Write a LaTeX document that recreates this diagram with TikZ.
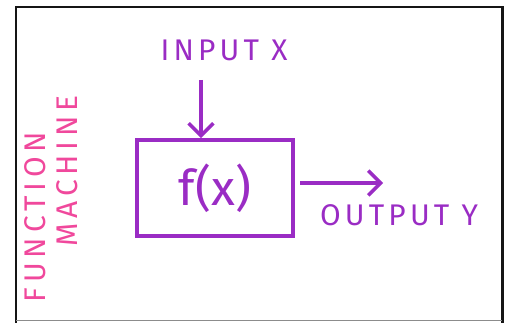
\documentclass[tikz,border=0pt]{standalone}
\usepackage{fontspec}
\setmainfont{Fira Sans}
\usetikzlibrary{positioning, arrows.meta}
\definecolor{Ink}{HTML}{9A2CC4}
\definecolor{Marker}{HTML}{F0489C}
\definecolor{Frame}{HTML}{151515}
\tikzset{
    machinebox/.style={rectangle, draw=Ink, line width=2.2pt, minimum width=3.12cm, minimum height=1.92cm, text=Ink, font=\fontsize{28}{30}\selectfont},
    inklabel/.style={text=Ink, font=\fontsize{17}{19}\selectfont\addfontfeature{LetterSpace=14}},
    sidelabel/.style={text=Marker, rotate=90, font=\fontsize{17}{19}\selectfont\addfontfeature{LetterSpace=16}},
    flow/.style={-{Straight Barb[length=7pt, width=14pt, line width=2pt]}, line width=2.2pt, draw=Ink},
}
\begin{document}
\begin{tikzpicture}[x=1cm, y=1cm]
    \useasboundingbox (0,0) rectangle (10.2,6.44);
    % Cornice
    \draw[line width=1.7pt, Frame] (0.32,-0.3) -- (0.32,6.30) -- (10.04,6.30) -- (10.04,-0.3);
    \draw[line width=0.5pt, black!45] (0.32,0.04) -- (10.04,0.04);

    % Macchina
    \node[machinebox] (box) at (4.30,2.68) {f(x)};

    % Ingresso
    \node[inklabel] (input) at (4.48,5.44) {INPUT X};
    \coordinate (instart) at (4.02,4.84);
    \draw[flow] (instart) -- (instart |- box.north);

    % Uscita
    \coordinate (outend) at (7.66,2.78);
    \draw[flow] ([xshift=3pt]box.east |- outend) -- (outend);
    \node[inklabel] (output) at (7.98,2.14) {OUTPUT Y};

    % Titolo
    \node[sidelabel] (title1) at (0.70,2.10) {FUNCTION};
    \node[sidelabel] (title2) at (1.34,3.02) {MACHINE};
\end{tikzpicture}
\end{document}
